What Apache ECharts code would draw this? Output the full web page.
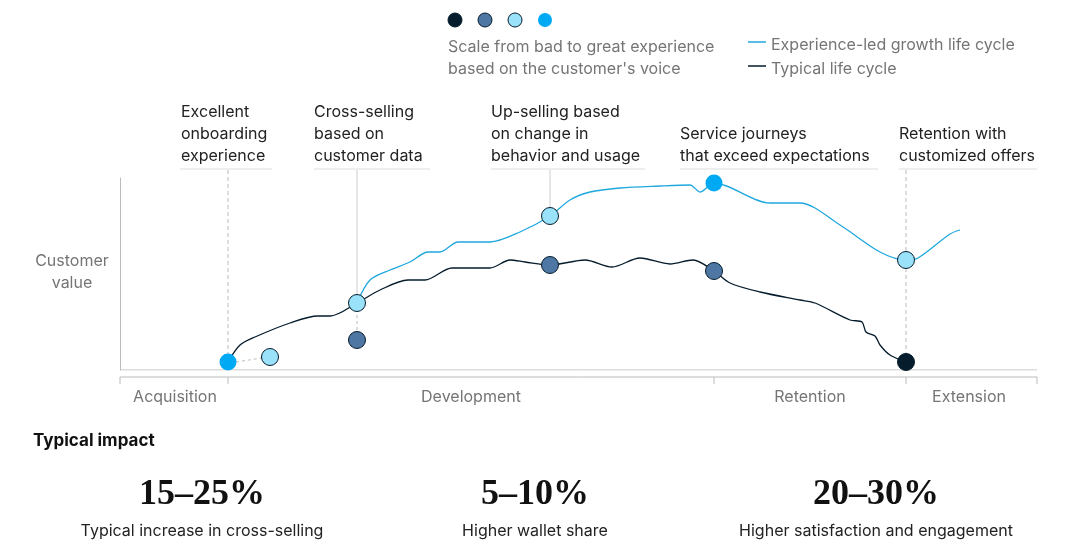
<!DOCTYPE html>
<html><head><meta charset="utf-8">
<script src="https://cdn.jsdelivr.net/npm/echarts@6/dist/echarts.min.js"></script>
<style>html,body{margin:0;background:#fff}#c{width:1077px;height:557px}</style>
</head><body><div id="c"></div>
<script>
// 体验驱动的生命周期 [阶段位置, 客户价值]
var growthLine = [[357,67],[370,90],[390,100],[410,108],[428,118],[440,118],[458,128],[490,128],[520,138],[550,154],[570,170],[590,178],[620,182],[660,184],[690,185],[700,178],[714,187],[770,167],[800,167],[840,145],[880,118],[906,110],[918,112],[950,136],[960,140]]
// 普通生命周期
var typicalLine = [[228,8],[240,25],[255,33],[290,47],[318,54],[330,54],[357,67],[380,80],[408,90],[425,90],[452,102],[490,102],[510,110],[525,108],[550,105],[585,110],[612,103],[640,112],[670,106],[693,110],[714,99],[730,87],[760,78],[800,70],[815,67],[850,50],[862,48],[866,38],[875,34],[880,25],[890,15],[906,8]]
// 体验评分点
var dotBright = [[228,8],[714,187]]
var dotLight = [[270,13],[357,67],[550,154],[906,110]]
var dotMid = [[357,30],[550,105],[714,99]]
var dotDark = [[906,8]]
var stages = ['Acquisition','Development','Retention','Extension']
var notes = [['Excellent\nonboarding\nexperience',181,180,272,101],['Cross-selling\nbased on\ncustomer data',314,314,430,101],['Up-selling based\non change in\nbehavior and usage',491,491,645,101],['Service journeys\nthat exceed expectations',680,680,878,123],['Retention with\ncustomized offers',899,899,1037,123]]
var impacts = [['15–25%','Typical increase in cross-selling',202],['5–10%','Higher wallet share',535],['20–30%','Higher satisfaction and engagement',876]]

var F = 'Inter, "Noto Sans", sans-serif'
var g = []
// 图例
var legCol = ['#051c2c','#4f77a3','#99e2fa','#00a9f4']
for (var i = 0; i < 4; i++) g.push({type:'circle',shape:{cx:455+i*30,cy:20,r:7},style:{fill:legCol[i],stroke:'#051c2c',lineWidth:i==3?0:1}})
g.push({type:'text',left:448,top:36,style:{text:'Scale from bad to great experience\nbased on the customer\'s voice',font:'16px '+F,fill:'#757575',lineHeight:22}})
g.push({type:'line',shape:{x1:748,y1:42,x2:766,y2:42},style:{stroke:'#1fa8de',lineWidth:1.5}})
g.push({type:'line',shape:{x1:748,y1:66,x2:766,y2:66},style:{stroke:'#051c2c',lineWidth:1.5}})
g.push({type:'text',left:771,top:33,style:{text:'Experience-led growth life cycle\nTypical life cycle',font:'16px '+F,fill:'#757575',lineHeight:24}})
// 注释
notes.forEach(function (n) {
    g.push({type:'text',left:n[1],top:n[4],style:{text:n[0],font:'16px '+F,fill:'#222',lineHeight:22,verticalAlign:'top'}})
    g.push({type:'line',shape:{x1:n[2],y1:169,x2:n[3],y2:169},style:{stroke:'#ddd',lineWidth:1}})
})
g.push({type:'line',shape:{x1:228,y1:170,x2:228,y2:362},style:{stroke:'#bbb',lineDash:[4,3]}})
g.push({type:'line',shape:{x1:357,y1:170,x2:357,y2:303},style:{stroke:'#ccc'}})
g.push({type:'line',shape:{x1:357,y1:303,x2:357,y2:340},style:{stroke:'#bbb',lineDash:[3,3]}})
g.push({type:'line',shape:{x1:550,y1:170,x2:550,y2:216},style:{stroke:'#ccc'}})
g.push({type:'line',shape:{x1:906,y1:170,x2:906,y2:362},style:{stroke:'#bbb',lineDash:[4,3]}})
g.push({type:'line',shape:{x1:236,y1:362,x2:262,y2:358},style:{stroke:'#bbb',lineDash:[3,3]}})
g.push({type:'text',x:72,y:272,style:{text:'Customer\nvalue',font:'16px '+F,fill:'#757575',lineHeight:22,align:'center',verticalAlign:'middle'}})
// 阶段轴
g.push({type:'line',shape:{x1:120,y1:377,x2:1037,y2:377},style:{stroke:'#bbb'}})
;[120,228,714,906,1037].forEach(function (x) { g.push({type:'line',shape:{x1:x,y1:377,x2:x,y2:384},style:{stroke:'#bbb'}}) })
var stX = [175,471,810,969]
stages.forEach(function (s, i) { g.push({type:'text',x:stX[i],y:397,style:{text:s,font:'16px '+F,fill:'#757575',align:'center',verticalAlign:'middle'}}) })
// 影响
g.push({type:'text',left:33,top:432,style:{text:'Typical impact',font:'bold 17px '+F,fill:'#111'}})
impacts.forEach(function (m) {
    g.push({type:'text',x:m[2],y:495,style:{text:m[0],font:'bold 36px "Liberation Serif", serif',fill:'#111',align:'center',verticalAlign:'middle'}})
    g.push({type:'text',x:m[2],y:531,style:{text:m[1],font:'16px '+F,fill:'#222',align:'center',verticalAlign:'middle'}})
})

function dots (data, color, stroke) {
    return {type:'scatter',data:data,symbolSize:17,z:5,itemStyle:{color:color,opacity:1,borderColor:stroke,borderWidth:stroke?1:0}}
}
var chart = echarts.init(document.getElementById('c'))
chart.setOption({
    animation:false,
    grid:{left:120,top:178,width:917,height:192},
    xAxis:{type:'value',min:120,max:1037,show:false},
    yAxis:{type:'value',min:0,max:192,splitLine:{show:false},axisLabel:{show:false},axisTick:{show:false},axisLine:{show:true,lineStyle:{color:'#bbb'}}},
    graphic:g,
    series:[
        {type:'line',data:[[120,0],[1037,0]],symbol:'none',lineStyle:{color:'#bbb',width:1}},
        {type:'line',data:typicalLine,symbol:'none',smooth:0.3,lineStyle:{color:'#051c2c',width:1.3}},
        {type:'line',data:growthLine,symbol:'none',smooth:0.3,lineStyle:{color:'#1fa8de',width:1.3}},
        dots(dotBright,'#00a9f4',null),
        dots(dotLight,'#99e2fa','#051c2c'),
        dots(dotMid,'#4f77a3','#051c2c'),
        dots(dotDark,'#051c2c','#051c2c')
    ]
})
</script></body></html>
